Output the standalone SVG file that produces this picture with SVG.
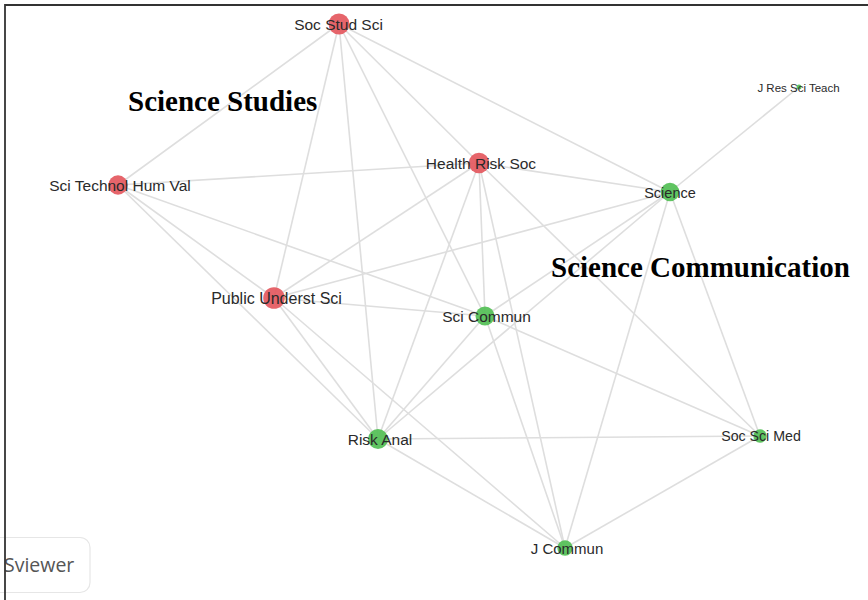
<svg xmlns="http://www.w3.org/2000/svg" width="868" height="600" viewBox="0 0 868 600">
<style>
.e{stroke:#dedede;stroke-width:1.6;fill:none}
.r{fill:#e4585e;fill-opacity:0.92}
.g{fill:#53bf55;fill-opacity:0.92}
.l{font-family:"Liberation Sans",Arial,sans-serif;fill:#2a2a2a;text-anchor:middle}
.h{font-family:"Liberation Serif","Times New Roman",serif;font-weight:bold;font-size:29px;fill:#000}
</style>
<rect width="868" height="600" fill="#fff"/>
<g id="connectors">
<line class="e" x1="339" y1="24" x2="118" y2="185"/>
<line class="e" x1="339" y1="24" x2="274" y2="298"/>
<line class="e" x1="339" y1="24" x2="378" y2="439"/>
<line class="e" x1="339" y1="24" x2="485" y2="316"/>
<line class="e" x1="339" y1="24" x2="479" y2="163"/>
<line class="e" x1="339" y1="24" x2="670" y2="192"/>
<line class="e" x1="118" y1="185" x2="479" y2="163"/>
<line class="e" x1="118" y1="185" x2="274" y2="298"/>
<line class="e" x1="118" y1="185" x2="485" y2="316"/>
<line class="e" x1="118" y1="185" x2="378" y2="439"/>
<line class="e" x1="479" y1="163" x2="670" y2="192"/>
<line class="e" x1="479" y1="163" x2="274" y2="298"/>
<line class="e" x1="479" y1="163" x2="378" y2="439"/>
<line class="e" x1="479" y1="163" x2="485" y2="316"/>
<line class="e" x1="479" y1="163" x2="565" y2="548"/>
<line class="e" x1="479" y1="163" x2="760" y2="436"/>
<line class="e" x1="670" y1="192" x2="799" y2="87"/>
<line class="e" x1="670" y1="192" x2="274" y2="298"/>
<line class="e" x1="670" y1="192" x2="378" y2="439"/>
<line class="e" x1="670" y1="192" x2="485" y2="316"/>
<line class="e" x1="670" y1="192" x2="565" y2="548"/>
<line class="e" x1="670" y1="192" x2="760" y2="436"/>
<line class="e" x1="274" y1="298" x2="485" y2="316"/>
<line class="e" x1="274" y1="298" x2="378" y2="439"/>
<line class="e" x1="274" y1="298" x2="565" y2="548"/>
<line class="e" x1="485" y1="316" x2="378" y2="439"/>
<line class="e" x1="485" y1="316" x2="760" y2="436"/>
<line class="e" x1="485" y1="316" x2="565" y2="548"/>
<line class="e" x1="378" y1="439" x2="760" y2="436"/>
<line class="e" x1="378" y1="439" x2="565" y2="548"/>
<line class="e" x1="760" y1="436" x2="565" y2="548"/>
</g>
<g id="soc-stud-sci"><circle class="r" cx="339" cy="24" r="10.5"/><text class="l" x="338.5" y="29.5" font-size="15.5">Soc Stud Sci</text></g>
<g id="sci-technol-hum-val"><circle class="r" cx="118" cy="185" r="9.7"/><text class="l" x="120" y="190.5" font-size="15.5">Sci Technol Hum Val</text></g>
<g id="health-risk-soc"><circle class="r" cx="479" cy="163" r="10.3"/><text class="l" x="481" y="168.5" font-size="15.5">Health Risk Soc</text></g>
<g id="public-underst-sci"><circle class="r" cx="274" cy="298" r="10.8"/><text class="l" x="276.5" y="304" font-size="16">Public Underst Sci</text></g>
<g id="science"><circle class="g" cx="670" cy="192" r="9.3"/><text class="l" x="670" y="197.5" font-size="14.5">Science</text></g>
<g id="j-res-sci-teach"><circle class="g" cx="799" cy="87" r="2.5"/><text class="l" x="798.5" y="91.6" font-size="11.5">J Res Sci Teach</text></g>
<g id="sci-commun"><circle class="g" cx="485" cy="316" r="9.5"/><text class="l" x="486.5" y="321.5" font-size="15.5">Sci Commun</text></g>
<g id="risk-anal"><circle class="g" cx="378" cy="439" r="10"/><text class="l" x="380" y="445" font-size="15.5">Risk Anal</text></g>
<g id="soc-sci-med"><circle class="g" cx="760" cy="436" r="6.7"/><text class="l" x="761" y="441.3" font-size="14.2">Soc Sci Med</text></g>
<g id="j-commun"><circle class="g" cx="565" cy="548" r="7.7"/><text class="l" x="567" y="554" font-size="15">J Commun</text></g>
<text class="h" x="128" y="111">Science Studies</text>
<text class="h" x="551" y="277">Science Communication</text>
<rect x="-20" y="537.5" width="110" height="55" rx="10" fill="#fff" stroke="#e6e6e6" stroke-width="1.2"/>
<text x="4" y="572" font-family="'Open Sans','Noto Sans',sans-serif" font-size="19.5" fill="#555">Sviewer</text>
<path d="M5,600 V5 H868" fill="none" stroke="#333" stroke-width="1.8"/>
</svg>
